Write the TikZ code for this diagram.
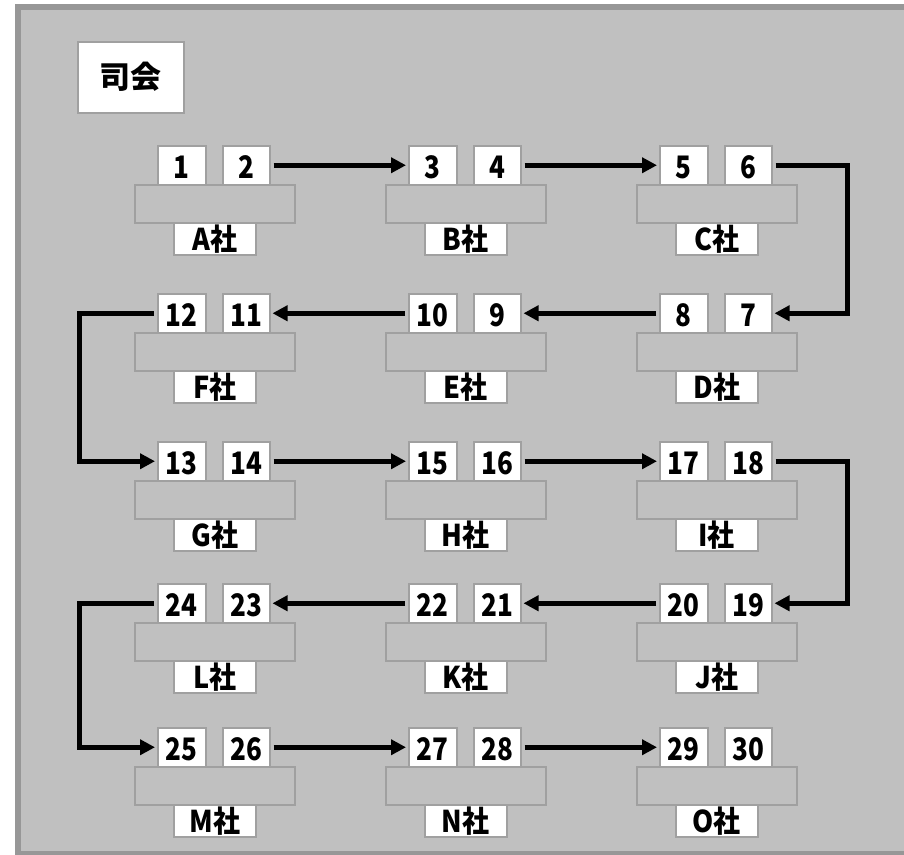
\documentclass[tikz,border=0pt]{standalone}
\usepackage{fontspec}
\setmainfont{Noto Sans CJK JP}[BoldFont={Noto Sans CJK JP Black}]
\newfontfamily\numfont{Noto Sans CJK JP Black}[FakeStretch=0.84]
\newfontfamily\tagfont{Noto Sans CJK JP Black}[FakeStretch=0.9]
\usetikzlibrary{arrows.meta}
\definecolor{bg}{HTML}{C0C0C0}
\definecolor{framec}{HTML}{979797}
\definecolor{boxc}{HTML}{A0A0A0}
\tikzset{
  seat/.style={draw=boxc, fill=white, line width=1.5pt, minimum height=39pt, inner sep=0pt,
    font=\numfont\fontsize{31}{31}\selectfont, text height=27pt, text depth=0pt},
  desk/.style={draw=boxc, fill=bg, line width=1.5pt, minimum width=160pt, minimum height=38pt, inner sep=0pt},
  tag/.style={draw=boxc, fill=white, line width=1.5pt, minimum width=82pt, minimum height=32pt, inner sep=0pt,
    font=\tagfont\fontsize{30}{30}\selectfont},
  host/.style={draw=boxc, fill=white, line width=1.5pt, minimum width=106pt, minimum height=71pt, inner sep=0pt,
    font=\bfseries\fontsize{31}{31}\selectfont},
  conn/.style={line width=5pt, -{Triangle[length=15pt,width=15pt]}, shorten <=3pt, shorten >=2pt}
}
\newcommand\company[6]{%
  \pgfmathsetmacro\cx{134+251*#1}%
  \node[seat, minimum width=48pt, anchor=north west] (s#3) at (\cx+23,#2) {#3};
  \node[seat, minimum width=47pt, anchor=north west] (s#4) at (\cx+88,#2) {#4};
  \node[desk, anchor=north west] (d#6) at (\cx,#2+39) {};
  \node[tag, anchor=north west] (t#6) at (\cx+39,#2+77) {#5};
}
\begin{document}
\begin{tikzpicture}[x=1pt,y=-1pt]
\useasboundingbox (0,0) rectangle (904,854);
\fill[white] (0,0) rectangle (904,854);
\draw[framec, fill=bg, line width=6pt] (18,6.5) rectangle (912,853.5);
\node[host, anchor=north west] (mc) at (77,41) {司会};
% row 1
\company{0}{145}{1}{2}{A社}{A}
\company{1}{145}{3}{4}{B社}{B}
\company{2}{145}{5}{6}{C社}{C}
% row 2
\company{2}{293}{8}{7}{D社}{D}
\company{1}{293}{10}{9}{E社}{E}
\company{0}{293}{12}{11}{F社}{F}
% row 3
\company{0}{441}{13}{14}{G社}{G}
\company{1}{441}{15}{16}{H社}{H}
\company{2}{441}{17}{18}{I社}{I}
% row 4
\company{2}{583}{20}{19}{J社}{J}
\company{1}{583}{22}{21}{K社}{K}
\company{0}{583}{24}{23}{L社}{L}
% row 5
\company{0}{727}{25}{26}{M社}{M}
\company{1}{727}{27}{28}{N社}{N}
\company{2}{727}{29}{30}{O社}{O}
% connectors
\coordinate (rx) at (847,0);
\coordinate (lx) at (79,0);
\draw[conn] (s2.east) -- (s3.west);
\draw[conn] (s4.east) -- (s5.west);
\draw[conn] (s6.east) -- (s6.east -| rx) |- (s7.east);
\draw[conn] (s8.west) -- (s9.east);
\draw[conn] (s10.west) -- (s11.east);
\draw[conn] (s12.west) -- (s12.west -| lx) |- (s13.west);
\draw[conn] (s14.east) -- (s15.west);
\draw[conn] (s16.east) -- (s17.west);
\draw[conn] (s18.east) -- (s18.east -| rx) |- (s19.east);
\draw[conn] (s20.west) -- (s21.east);
\draw[conn] (s22.west) -- (s23.east);
\draw[conn] (s24.west) -- (s24.west -| lx) |- (s25.west);
\draw[conn] (s26.east) -- (s27.west);
\draw[conn] (s28.east) -- (s29.west);
\end{tikzpicture}
\end{document}
